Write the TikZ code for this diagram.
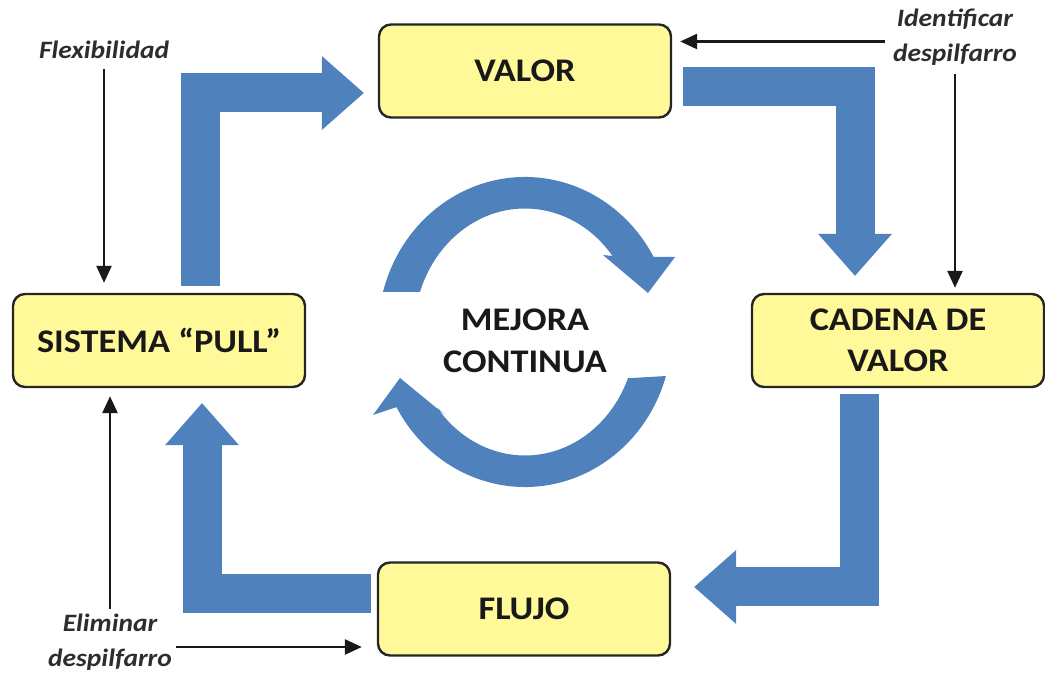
\documentclass[tikz,border=0pt]{standalone}
\usepackage{fontspec}
\setmainfont{Carlito}[FakeStretch=1.1]
\usepackage{tikz}
\usetikzlibrary{arrows.meta,positioning,calc}
\definecolor{boxyellow}{RGB}{255,249,153}
\definecolor{flowblue}{RGB}{79,129,189}
\definecolor{notegray}{RGB}{45,45,45}

\begin{document}
\begin{tikzpicture}
      [x=0.5pt, y=0.5pt, >={Triangle[width=7.5pt,length=8.5pt]},
      stage/.style={rectangle, draw=black!85, line width=1.2pt, rounded corners=6pt,
        fill=boxyellow, minimum width=146pt, minimum height=46.5pt, align=center,
        font=\fontsize{16.5}{20.5}\selectfont\bfseries, text=black!90},
      core/.style={align=center, font=\fontsize{16.5}{21}\selectfont\bfseries, text=black!90},
      note/.style={align=center, inner sep=2pt, text=notegray,
        font=\fontsize{12.5}{17.5}\selectfont\bfseries\itshape},
      pointer/.style={->, line width=1.35pt, black!90},
      flow/.style={color=flowblue, line width=19.5pt, line join=miter,
        -{Triangle[width=37pt,length=21pt,line width=0pt]}},
      turn/.style={fill=flowblue},
      outer/.style={x radius=73.5pt, y radius=77.5pt},
      inner/.style={x radius=55.5pt, y radius=61.75pt}]

      \useasboundingbox (0,0) rectangle (1045,-673);

      \node [stage] (VALOR)  at (525,-71)    {VALOR};
      \node [stage] (CADENA) at (898,-340.5) {CADENA DE\\VALOR};
      \node [stage] (FLUJO)  at (524,-609)   {FLUJO};
      \node [stage] (PULL)   at (159,-340.5) {SISTEMA “PULL”};
      \node [core]  (mejora) at (525,-341)   {MEJORA\\CONTINUA};

      \node [note] (flex)  at (104,-50)   {Flexibilidad};
      \node [note] (ident) at (955,-37.5) {Identificar\\despilfarro};
      \node [note] (elim)  at (110,-642)  {Eliminar\\despilfarro};

      \draw [flow] ($(PULL.north)+(41,7)$)     |- ($(VALOR.west)+(-14,-22)$);
      \draw [flow] ($(VALOR.east)+(11,-15.5)$) -| ($(CADENA.north)+(-43,17)$);
      \draw [flow] ($(CADENA.south)+(-39,-6)$) |- ($(FLUJO.east)+(23,22)$);
      \draw [flow] ($(FLUJO.west)+(-6,15)$)    -| ($(PULL.south)+(43,-15)$);

      \coordinate (ring) at (525,-332);
      \fill [turn] ($(ring)+(165:73.5pt and 77.5pt)$) arc [outer, start angle=165, end angle=29]
        -- ($(ring)+(150,75)$) -- ($(ring)+(123,39)$) -- ($(ring)+(78,77)$)
        -- ($(ring)+(38:55.5pt and 61.75pt)$) arc [inner, start angle=38, end angle=161] -- cycle;
      \fill [turn] ($(ring)+(-16.5:73.5pt and 77.5pt)$) arc [outer, start angle=-16.5, end angle=-151]
        -- ($(ring)+(-152,-83)$) -- ($(ring)+(-125,-46)$) -- ($(ring)+(-80,-83)$)
        -- ($(ring)+(-142:55.5pt and 61.75pt)$) arc [inner, start angle=-142, end angle=-22] -- cycle;

      \draw [pointer, shorten <=3pt, shorten >=5pt] (flex) -- (flex |- PULL.north);
      \draw [pointer, shorten <=2pt, shorten >=4pt] ([yshift=-2pt]ident.west) -- ([yshift=-2pt]ident.west -| VALOR.east);
      \draw [pointer, shorten <=2pt, shorten >=2.5pt] (ident) -- (ident |- CADENA.north);
      \draw [pointer, shorten >=4pt] (elim) -- (elim |- PULL.south);
      \draw [pointer, shorten >=7.5pt] ([yshift=-2.5pt]elim.east) -- ([yshift=-2.5pt]elim.east -| FLUJO.west);
    \end{tikzpicture}
\end{document}
